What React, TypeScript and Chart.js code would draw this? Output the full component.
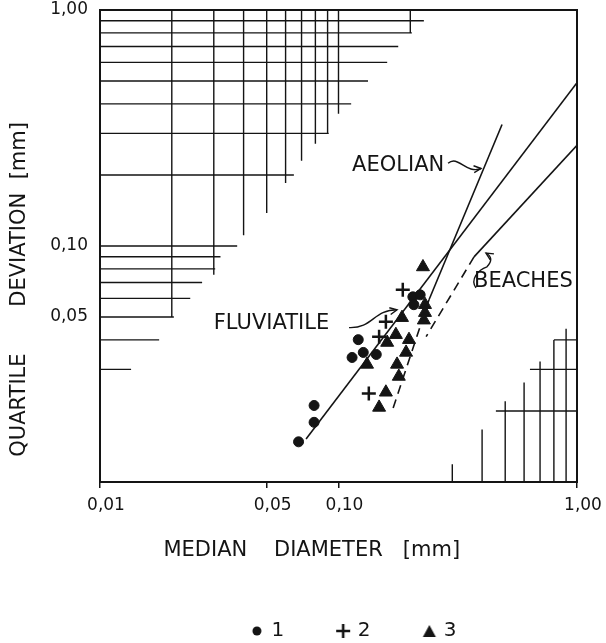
import React, { useEffect, useRef } from 'react';
import { Chart, registerables } from 'chart.js';

Chart.register(...registerables);

const INK = '#141414';
const FONT = '"DejaVu Sans", "Liberation Sans", sans-serif';

// ---- axes ----
const axisMin = 0.01;
const axisMax = 1;
const xTickValues = [0.01, 0.05, 0.1, 1];
const xTickLabels = ['0,01', '0,05', '0,10', '1,00'];
const yTickValues = [0.05, 0.1, 1];
const yTickLabels = ['0,05', '0,10', '1,00'];

// ---- samples (median diameter, quartile deviation) in mm ----
const circleX = [0.205, 0.22, 0.207, 0.121, 0.114, 0.127, 0.144, 0.079, 0.079, 0.068];
const circleY = [0.0609, 0.0621, 0.0564, 0.0401, 0.0337, 0.0354, 0.0347, 0.0211, 0.0179, 0.0148];
const plusX = [0.186, 0.158, 0.148, 0.134];
const plusY = [0.0652, 0.0478, 0.0413, 0.0237];
const triX = [0.226, 0.2305, 0.2305, 0.228, 0.1846, 0.174, 0.16, 0.1975, 0.192, 0.1317, 0.176, 0.179, 0.158, 0.148];
const triY = [0.0815, 0.0564, 0.0522, 0.0485, 0.0497, 0.0421, 0.039, 0.0401, 0.0354, 0.0315, 0.0315, 0.028, 0.024, 0.0207];

// ---- environment lines ----
const fluviatileX = [0.0731, 1.0];
const fluviatileY = [0.0152, 0.492];
const aeolianX = [0.485, 0.2396];
const aeolianY = [0.327, 0.0592];
const aeolianDashX = [0.2396, 0.1676];
const aeolianDashY = [0.0592, 0.0199];
const beachesX = [1.0, 0.37];
const beachesY = [0.267, 0.0899];
const beachesDashX = [0.37, 0.233];
const beachesDashY = [0.0899, 0.0413];

// ---- hatched (graph-paper) corner, upper left ----
const hatchHY = [0.9, 0.8, 0.7, 0.6, 0.5, 0.4, 0.3, 0.2, 0.1, 0.09, 0.08, 0.07, 0.06, 0.05, 0.04, 0.03];
const hatchHXEnd = [0.228, 0.203, 0.178, 0.16, 0.133, 0.113, 0.091, 0.065, 0.0376, 0.032, 0.0304, 0.0268, 0.0239, 0.0204, 0.0177, 0.0135];
const hatchVX = [0.02, 0.03, 0.04, 0.05, 0.06, 0.07, 0.08, 0.09, 0.1, 0.2];
const hatchVYEnd = [0.05, 0.0755, 0.111, 0.138, 0.185, 0.23, 0.271, 0.302, 0.363, 0.8];
// ---- hatched corner, lower right ----
const cornerVX = [0.3, 0.4, 0.5, 0.6, 0.7, 0.8, 0.9];
const cornerVYTop = [0.0119, 0.0167, 0.022, 0.0264, 0.0324, 0.04, 0.0446];
const cornerHY = [0.02, 0.03, 0.04];
const cornerHXStart = [0.457, 0.635, 0.8];

// ---- labels ----
const annotationText = ['AEOLIAN', 'BEACHES', 'FLUVIATILE'];
const annotationX = [0.114, 0.37, 0.03];
const annotationY = [0.22, 0.0705, 0.0469];

const pts = (xs: number[], ys: number[]) => xs.map((x, i) => ({ x, y: ys[i] }));

function hatchData() {
  const d: { x: number; y: number | null }[] = [];
  hatchHY.forEach((y, i) => d.push({ x: axisMin, y }, { x: hatchHXEnd[i], y }, { x: hatchHXEnd[i], y: null }));
  hatchVX.forEach((x, i) => d.push({ x, y: axisMax }, { x, y: hatchVYEnd[i] }, { x, y: null }));
  cornerVX.forEach((x, i) => d.push({ x, y: axisMin }, { x, y: cornerVYTop[i] }, { x, y: null }));
  cornerHY.forEach((y, i) => d.push({ x: cornerHXStart[i], y }, { x: axisMax, y }, { x: axisMax, y: null }));
  return d;
}

const lineDs = (label: string, data: any[], dash: number[] = [], width = 1.6) => ({
  label,
  data,
  showLine: true,
  pointRadius: 0,
  pointHoverRadius: 0,
  borderColor: INK,
  backgroundColor: INK,
  borderWidth: width,
  borderDash: dash,
  spanGaps: false,
  fill: false,
});

function legendSymbol(kind: string) {
  const c = document.createElement('canvas');
  c.width = 16;
  c.height = 16;
  const g = c.getContext('2d')!;
  g.fillStyle = INK;
  g.strokeStyle = INK;
  if (kind === 'circle') {
    g.beginPath();
    g.arc(8, 8, 4.5, 0, Math.PI * 2);
    g.fill();
  } else if (kind === 'cross') {
    g.lineWidth = 2.6;
    g.beginPath();
    g.moveTo(1, 8);
    g.lineTo(15, 8);
    g.moveTo(8, 1);
    g.lineTo(8, 15);
    g.stroke();
  } else {
    g.beginPath();
    g.moveTo(8, 2);
    g.lineTo(14.5, 14);
    g.lineTo(1.5, 14);
    g.closePath();
    g.fill();
  }
  return c;
}

function arrowHead(ctx: CanvasRenderingContext2D, tx: number, ty: number, fx: number, fy: number) {
  const a = Math.atan2(ty - fy, tx - fx);
  const L = 8;
  ctx.beginPath();
  ctx.moveTo(tx - L * Math.cos(a - 0.45), ty - L * Math.sin(a - 0.45));
  ctx.lineTo(tx, ty);
  ctx.lineTo(tx - L * Math.cos(a + 0.45), ty - L * Math.sin(a + 0.45));
  ctx.stroke();
}

const framePlugin = {
  id: 'frame',
  beforeDatasetsDraw(chart: any) {
    const { ctx, chartArea: a } = chart;
    ctx.save();
    ctx.strokeStyle = INK;
    ctx.lineWidth = 2;
    ctx.strokeRect(a.left, a.top, a.right - a.left, a.bottom - a.top);
    ctx.restore();
  },
};

const annotationPlugin = {
  id: 'annotations',
  afterDatasetsDraw(chart: any) {
    const { ctx } = chart;
    const xs = chart.scales.x;
    const ys = chart.scales.y;
    const px = (v: number) => xs.getPixelForValue(v);
    const py = (v: number) => ys.getPixelForValue(v);
    ctx.save();
    ctx.fillStyle = INK;
    ctx.strokeStyle = INK;
    ctx.lineWidth = 1.4;
    ctx.font = `21px ${FONT}`;
    ctx.textAlign = 'left';
    ctx.textBaseline = 'middle';
    annotationText.forEach((t, i) => ctx.fillText(t, px(annotationX[i]), py(annotationY[i])));

    // AEOLIAN wavy arrow
    {
      const sx = px(0.288), sy = py(0.224), ex = px(0.396), ey = py(0.213);
      const dx = ex - sx;
      ctx.beginPath();
      ctx.moveTo(sx, sy);
      ctx.bezierCurveTo(sx + 0.3 * dx, sy - 9, sx + 0.55 * dx, ey + 6, ex, ey);
      ctx.stroke();
      arrowHead(ctx, ex, ey, ex - 10, ey + 1);
    }
    // FLUVIATILE arrow
    {
      const sx = px(0.1107), sy = py(0.0451), ex = px(0.176), ey = py(0.0537);
      const dx = ex - sx;
      ctx.beginPath();
      ctx.moveTo(sx, sy);
      ctx.bezierCurveTo(sx + 0.5 * dx, sy + 1, sx + 0.5 * dx, ey, ex, ey);
      ctx.stroke();
      arrowHead(ctx, ex, ey, ex - 10, ey + 2);
    }
    // BEACHES hooked arrow
    {
      const sx = px(0.377), sy = py(0.0665), ex = px(0.4153), ey = py(0.0934);
      ctx.beginPath();
      ctx.moveTo(sx, sy);
      ctx.bezierCurveTo(sx - 6, sy - 8, sx + 2, sy - 18, sx + 11, sy - 21);
      ctx.quadraticCurveTo(ex + 9, ey + 5, ex, ey);
      ctx.stroke();
      arrowHead(ctx, ex, ey, ex + 8, ey + 5);
    }
    ctx.restore();
  },
};

const legendShiftPlugin = {
  id: 'legendShift',
  afterLayout(chart: any) {
    const lg = chart.legend;
    if (!lg) return;
    lg.left += 66;
    lg.right += 66;
    lg.top += 8;
    lg.bottom += 8;
  },
};

export default function App() {
  const ref = useRef<HTMLCanvasElement>(null);

  useEffect(() => {
    const canvas = ref.current;
    if (!canvas) return;
    const symbols = [legendSymbol('circle'), legendSymbol('cross'), legendSymbol('triangle')];
    const chart = new Chart(canvas, {
      type: 'scatter',
      data: {
        datasets: [
          {
            label: '1',
            data: pts(circleX, circleY),
            pointStyle: 'circle',
            pointRadius: 5,
            pointHoverRadius: 5,
            backgroundColor: INK,
            borderColor: INK,
            borderWidth: 1,
          },
          {
            label: '2',
            data: pts(plusX, plusY),
            pointStyle: 'cross',
            pointRadius: 7,
            pointHoverRadius: 7,
            backgroundColor: INK,
            borderColor: INK,
            borderWidth: 2.5,
          },
          {
            label: '3',
            data: pts(triX, triY),
            pointStyle: 'triangle',
            pointRadius: 7.5,
            pointHoverRadius: 7.5,
            backgroundColor: INK,
            borderColor: INK,
            borderWidth: 1,
          },
          lineDs('Fluviatile', pts(fluviatileX, fluviatileY)),
          lineDs('Aeolian', pts(aeolianX, aeolianY)),
          lineDs('Aeolian (dashed)', pts(aeolianDashX, aeolianDashY), [9, 6]),
          lineDs('Beaches', pts(beachesX, beachesY)),
          lineDs('Beaches (dashed)', pts(beachesDashX, beachesDashY), [9, 6]),
          lineDs('grid', hatchData(), [], 1.4),
        ] as any,
      },
      options: {
        animation: false,
        responsive: false,
        devicePixelRatio: 1,
        events: [],
        layout: { padding: { top: 10, right: 29, left: 0, bottom: 0 } },
        scales: {
          x: {
            type: 'logarithmic',
            min: axisMin,
            max: axisMax,
            afterBuildTicks: (s: any) => {
              s.ticks = xTickValues.map((v) => ({ value: v }));
            },
            afterFit: (s: any) => {
              s.height = 121;
            },
            ticks: {
              callback: (_v: any, i: number) => xTickLabels[i],
              font: { family: FONT, size: 17 },
              color: INK,
              padding: 7,
              maxRotation: 0,
              autoSkip: false,
              labelOffset: 6,
            },
            grid: { display: true, drawOnChartArea: false, drawTicks: true, tickLength: 6, color: INK, lineWidth: 1.5 },
            border: { display: true, color: INK, width: 2 },
            title: {
              display: true,
              text: 'MEDIAN    DIAMETER   [mm]        ',
              font: { family: FONT, size: 21 },
              color: INK,
              padding: { top: 0, bottom: 40 },
            },
          },
          y: {
            type: 'logarithmic',
            min: axisMin,
            max: axisMax,
            afterBuildTicks: (s: any) => {
              s.ticks = yTickValues.map((v) => ({ value: v }));
            },
            afterFit: (s: any) => {
              s.width = 100;
              s.paddingTop = 0;
              s.paddingBottom = 0;
            },
            ticks: {
              callback: (_v: any, i: number) => yTickLabels[i],
              font: { family: FONT, size: 17 },
              color: INK,
              padding: 12,
              autoSkip: false,
            },
            grid: { display: false, drawTicks: false, tickLength: 0 },
            border: { display: true, color: INK, width: 2 },
            title: {
              display: true,
              text: 'QUARTILE       DEVIATION  [mm]             ',
              font: { family: FONT, size: 21 },
              color: INK,
              padding: { top: 7, bottom: 0 },
            },
          },
        },
        plugins: {
          tooltip: { enabled: false },
          legend: {
            display: true,
            position: 'bottom',
            labels: {
              usePointStyle: true,
              boxWidth: 9,
              boxHeight: 9,
              padding: 10,
              color: INK,
              font: { family: FONT, size: 20 },
              generateLabels: (c: any) => {
                const items = (Chart.defaults.plugins.legend.labels.generateLabels as any)(c).filter((it: any) =>
                  ['1', '2', '3'].includes(it.text)
                );
                return items.map((it: any, i: number) => ({
                  ...it,
                  pointStyle: symbols[i],
                  text: i < items.length - 1 ? it.text + '       ' : it.text,
                }));
              },
            },
          },
        },
      } as any,
      plugins: [framePlugin, annotationPlugin, legendShiftPlugin],
    });
    return () => chart.destroy();
  }, []);

  return (
    <div style={{ position: 'fixed', left: 0, top: 0, width: 606, height: 643, background: '#fff' }}>
      <canvas ref={ref} width={606} height={643} style={{ display: 'block' }} />
    </div>
  );
}
